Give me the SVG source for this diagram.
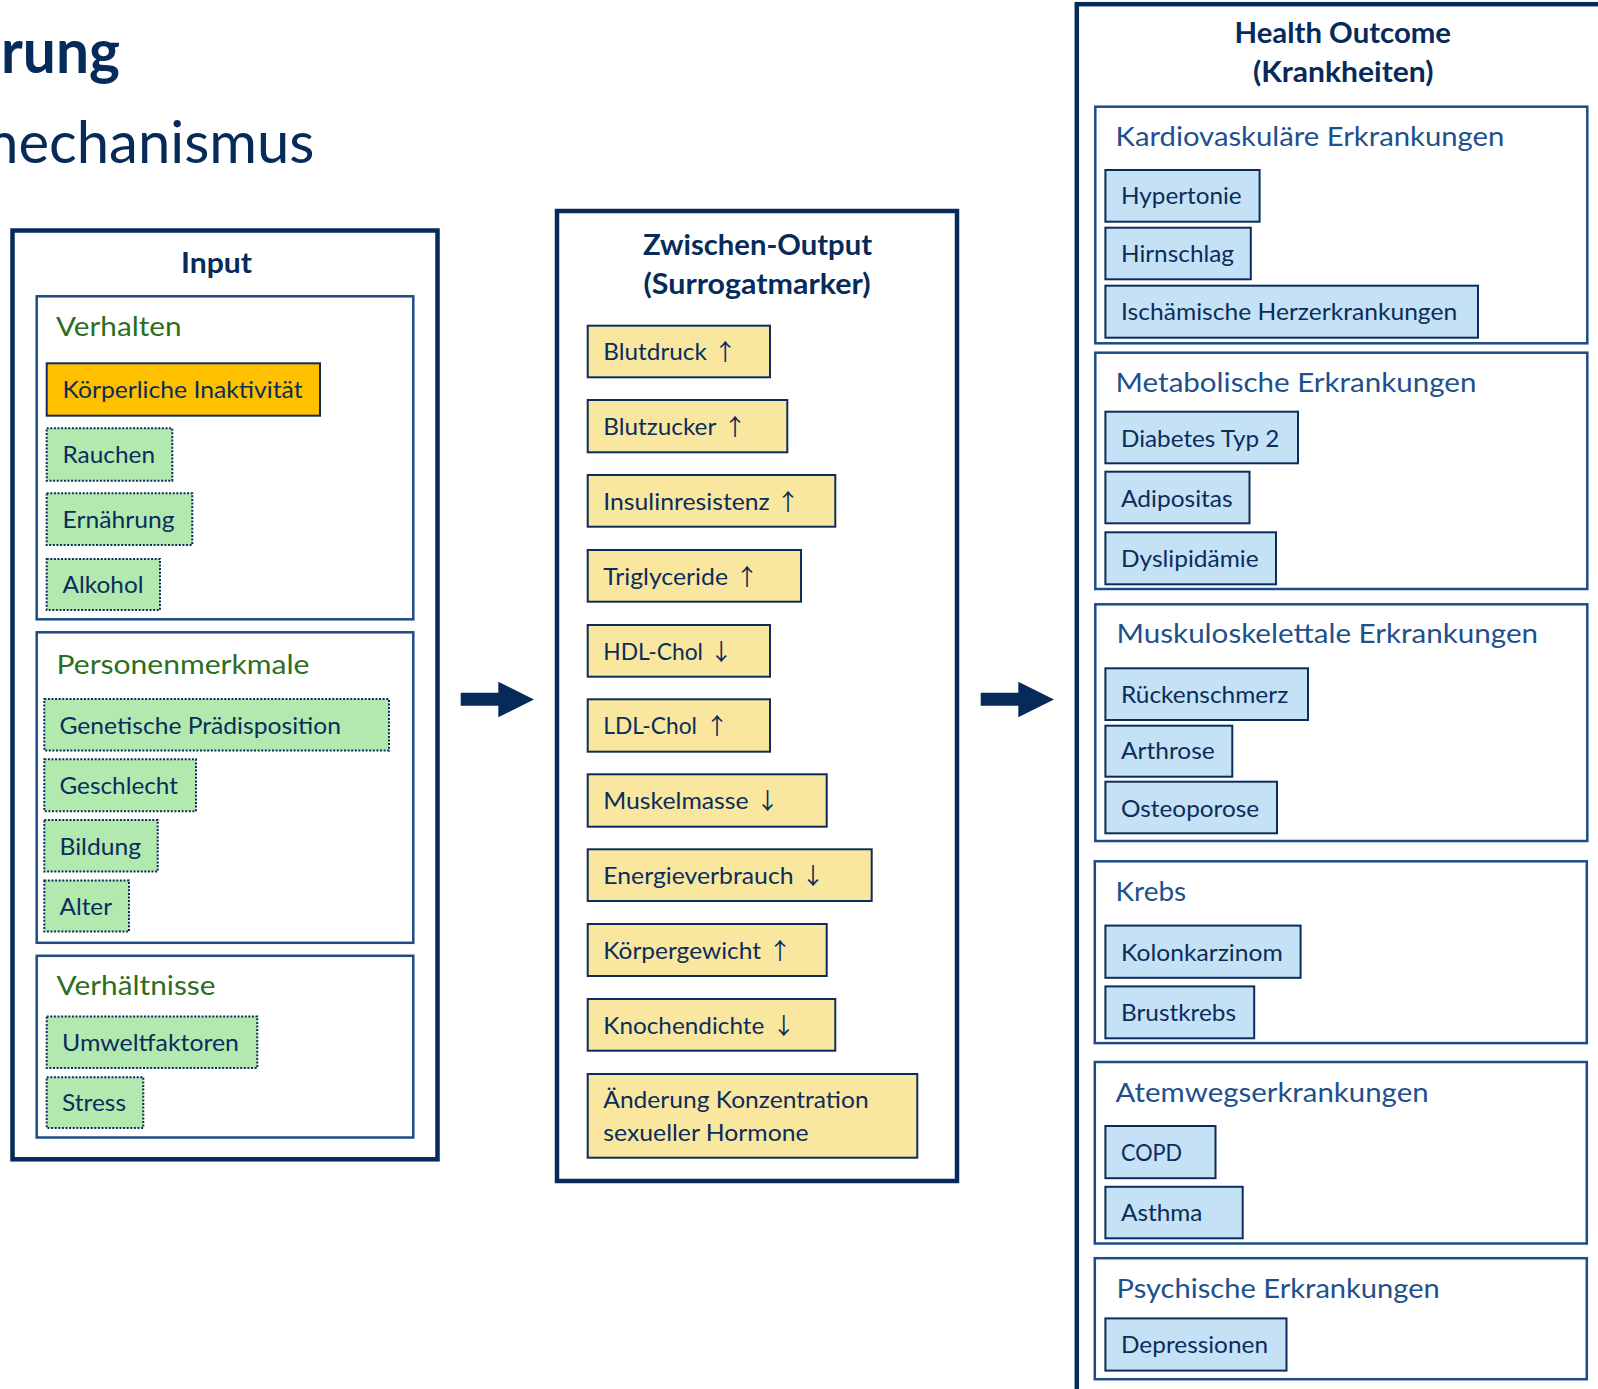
<svg xmlns="http://www.w3.org/2000/svg" width="1598" height="1389" viewBox="0 0 1598 1389">
<style>
text{font-family:Lato,"Liberation Sans",sans-serif;}
.outer{fill:#fff;stroke:#062b5a;stroke-width:4.5}
.sub{fill:#fff;stroke:#1d4c86;stroke-width:2.5}
.orange{fill:#ffc000;stroke:#0b2d5b;stroke-width:2}
.green{fill:#b1e9af;stroke:#0b2d5b;stroke-width:2;stroke-dasharray:2 1.6}
.yellow{fill:#fae79f;stroke:#0b2d5b;stroke-width:2}
.blue{fill:#c5e1f5;stroke:#0b2d5b;stroke-width:2}
.item{font-size:24px;fill:#0b2d5b}
.catg{font-size:26.5px;fill:#2c6e22}
.catb{font-size:26.5px;fill:#1e508e}
.head{font-size:28px;font-weight:bold;fill:#062b5a}
.arr{font-family:"Noto Sans CJK JP","DejaVu Sans",sans-serif;font-size:23px;fill:#0b2d5b;text-anchor:middle}
.conn{fill:#062b5a}
</style>

<g id="page-title">
<text x="1" y="72.7" style="font-size:61px;font-weight:bold;fill:#062b5a" textLength="119" lengthAdjust="spacingAndGlyphs">rung</text>
<text x="314.5" y="163.3" text-anchor="end" style="font-size:58px;fill:#062b5a">mechanismus</text>
</g>

<g id="input">
<rect class="outer" x="12.5" y="230.5" width="425" height="928.8"/>
<text class="head" x="181" y="273" textLength="71" lengthAdjust="spacingAndGlyphs">Input</text>
</g>

<g id="verhalten">
<rect class="sub" x="36.7" y="296.3" width="376.6" height="323"/>
<text class="catg" x="56" y="335.7" textLength="125.5" lengthAdjust="spacingAndGlyphs">Verhalten</text>
</g>
<g id="koerperliche-inaktivitaet">
<rect class="orange" x="46.7" y="363.3" width="273.3" height="52.4"/>
<text class="item" x="62.5" y="398.3" textLength="240" lengthAdjust="spacingAndGlyphs">Körperliche Inaktivität</text>
</g>
<g id="rauchen">
<rect class="green" x="46.7" y="428.3" width="125.6" height="52.4"/>
<text class="item" x="62.5" y="463.3" textLength="92.5" lengthAdjust="spacingAndGlyphs">Rauchen</text>
</g>
<g id="ernaehrung">
<rect class="green" x="46.7" y="493.3" width="145.6" height="51.7"/>
<text class="item" x="62.5" y="528.3" textLength="112" lengthAdjust="spacingAndGlyphs">Ernährung</text>
</g>
<g id="alkohol">
<rect class="green" x="46.7" y="559" width="113.3" height="51"/>
<text class="item" x="62.5" y="593.3" textLength="81" lengthAdjust="spacingAndGlyphs">Alkohol</text>
</g>

<g id="personenmerkmale">
<rect class="sub" x="36.7" y="632.3" width="376.6" height="310.5"/>
<text class="catg" x="56.5" y="674.4" textLength="253" lengthAdjust="spacingAndGlyphs">Personenmerkmale</text>
</g>
<g id="genetische-praedisposition">
<rect class="green" x="44.3" y="699" width="344.7" height="51.5"/>
<text class="item" x="59.5" y="734" textLength="281.5" lengthAdjust="spacingAndGlyphs">Genetische Prädisposition</text>
</g>
<g id="geschlecht">
<rect class="green" x="44.3" y="759.3" width="151.7" height="51.9"/>
<text class="item" x="59.5" y="794.4" textLength="118.5" lengthAdjust="spacingAndGlyphs">Geschlecht</text>
</g>
<g id="bildung">
<rect class="green" x="44.3" y="820" width="113.4" height="51.6"/>
<text class="item" x="59.5" y="855.1" textLength="81.5" lengthAdjust="spacingAndGlyphs">Bildung</text>
</g>
<g id="alter">
<rect class="green" x="44.3" y="880.4" width="84.7" height="51.2"/>
<text class="item" x="59.5" y="914.7" textLength="52.5" lengthAdjust="spacingAndGlyphs">Alter</text>
</g>

<g id="verhaeltnisse">
<rect class="sub" x="36.7" y="955.8" width="376.6" height="181.7"/>
<text class="catg" x="56.5" y="994.7" textLength="159" lengthAdjust="spacingAndGlyphs">Verhältnisse</text>
</g>
<g id="umweltfaktoren">
<rect class="green" x="46.7" y="1016.5" width="210.6" height="51.5"/>
<text class="item" x="62" y="1050.9" textLength="177" lengthAdjust="spacingAndGlyphs">Umweltfaktoren</text>
</g>
<g id="stress">
<rect class="green" x="46.7" y="1077.2" width="96.6" height="50.8"/>
<text class="item" x="62" y="1111.2" textLength="64" lengthAdjust="spacingAndGlyphs">Stress</text>
</g>

<g id="zwischen-output">
<rect class="outer" x="557" y="211" width="400" height="970"/>
<text class="head" x="643" y="255" textLength="229" lengthAdjust="spacingAndGlyphs">Zwischen-Output</text>
<text class="head" x="643.5" y="293.5" textLength="227" lengthAdjust="spacingAndGlyphs">(Surrogatmarker)</text>
</g>
<g id="blutdruck">
<rect class="yellow" x="587.7" y="325.7" width="182.3" height="51.6"/>
<text class="item" x="603.3" y="360" textLength="103.5" lengthAdjust="spacingAndGlyphs">Blutdruck</text>
<text class="arr" x="725.3" y="360">↑</text>
</g>
<g id="blutzucker">
<rect class="yellow" x="587.7" y="400" width="199.6" height="52.3"/>
<text class="item" x="603.3" y="435" textLength="113" lengthAdjust="spacingAndGlyphs">Blutzucker</text>
<text class="arr" x="735" y="435">↑</text>
</g>
<g id="insulinresistenz">
<rect class="yellow" x="587.7" y="475" width="247.6" height="51.7"/>
<text class="item" x="603.3" y="510" textLength="166.5" lengthAdjust="spacingAndGlyphs">Insulinresistenz</text>
<text class="arr" x="788" y="510">↑</text>
</g>
<g id="triglyceride">
<rect class="yellow" x="587.7" y="550" width="213.3" height="51.7"/>
<text class="item" x="603.3" y="585" textLength="124.7" lengthAdjust="spacingAndGlyphs">Triglyceride</text>
<text class="arr" x="747" y="585">↑</text>
</g>
<g id="hdl-chol">
<rect class="yellow" x="587.7" y="625" width="182.3" height="51.7"/>
<text class="item" x="603.3" y="660" textLength="99.7" lengthAdjust="spacingAndGlyphs">HDL-Chol</text>
<text class="arr" x="721.3" y="660">↓</text>
</g>
<g id="ldl-chol">
<rect class="yellow" x="587.7" y="699.3" width="182.3" height="52.4"/>
<text class="item" x="603.3" y="734.3" textLength="93.7" lengthAdjust="spacingAndGlyphs">LDL-Chol</text>
<text class="arr" x="717" y="734.3">↑</text>
</g>
<g id="muskelmasse">
<rect class="yellow" x="587.7" y="774.3" width="239" height="52.4"/>
<text class="item" x="603.3" y="809.3" textLength="145.3" lengthAdjust="spacingAndGlyphs">Muskelmasse</text>
<text class="arr" x="767.5" y="809.3">↓</text>
</g>
<g id="energieverbrauch">
<rect class="yellow" x="587.7" y="849.3" width="284" height="51.7"/>
<text class="item" x="603.3" y="884" textLength="190.3" lengthAdjust="spacingAndGlyphs">Energieverbrauch</text>
<text class="arr" x="813" y="884">↓</text>
</g>
<g id="koerpergewicht">
<rect class="yellow" x="587.7" y="924" width="239" height="52"/>
<text class="item" x="603.3" y="959.3" textLength="157.7" lengthAdjust="spacingAndGlyphs">Körpergewicht</text>
<text class="arr" x="780" y="959.3">↑</text>
</g>
<g id="knochendichte">
<rect class="yellow" x="587.7" y="999" width="247.6" height="51.7"/>
<text class="item" x="603.3" y="1034" textLength="161" lengthAdjust="spacingAndGlyphs">Knochendichte</text>
<text class="arr" x="783.7" y="1034">↓</text>
</g>
<g id="sexualhormone">
<rect class="yellow" x="587.7" y="1074" width="329.6" height="83.7"/>
<text class="item" x="603.3" y="1108.3" textLength="265.3" lengthAdjust="spacingAndGlyphs">Änderung Konzentration</text>
<text class="item" x="603.3" y="1141" textLength="205.3" lengthAdjust="spacingAndGlyphs">sexueller Hormone</text>
</g>

<g id="health-outcome">
<rect class="outer" x="1076.8" y="4.2" width="700" height="1500"/>
<text class="head" x="1234.5" y="43.3" textLength="216.5" lengthAdjust="spacingAndGlyphs">Health Outcome</text>
<text class="head" x="1253" y="81.5" textLength="180.5" lengthAdjust="spacingAndGlyphs">(Krankheiten)</text>
</g>

<g id="kardiovaskulaer">
<rect class="sub" x="1095.3" y="106.7" width="492" height="236.6"/>
<text class="catb" x="1115.6" y="145.7" textLength="388.7" lengthAdjust="spacingAndGlyphs">Kardiovaskuläre Erkrankungen</text>
</g>
<g id="hypertonie">
<rect class="blue" x="1105.4" y="170" width="154.2" height="51.7"/>
<text class="item" x="1121" y="204" textLength="120.7" lengthAdjust="spacingAndGlyphs">Hypertonie</text>
</g>
<g id="hirnschlag">
<rect class="blue" x="1105.4" y="227.7" width="145.4" height="51.6"/>
<text class="item" x="1121" y="261.7" textLength="113" lengthAdjust="spacingAndGlyphs">Hirnschlag</text>
</g>
<g id="ischaemische-herzerkrankungen">
<rect class="blue" x="1105.4" y="285.7" width="372.6" height="52"/>
<text class="item" x="1121" y="320" textLength="336.2" lengthAdjust="spacingAndGlyphs">Ischämische Herzerkrankungen</text>
</g>

<g id="metabolisch">
<rect class="sub" x="1095.3" y="352.7" width="492" height="236.3"/>
<text class="catb" x="1115.6" y="391.7" textLength="360.8" lengthAdjust="spacingAndGlyphs">Metabolische Erkrankungen</text>
</g>
<g id="diabetes">
<rect class="blue" x="1105.4" y="411.7" width="192.6" height="51.6"/>
<text class="item" x="1121" y="446.7" textLength="158.4" lengthAdjust="spacingAndGlyphs">Diabetes Typ 2</text>
</g>
<g id="adipositas">
<rect class="blue" x="1105.4" y="471.7" width="144.1" height="51.6"/>
<text class="item" x="1121" y="506.7" textLength="111.6" lengthAdjust="spacingAndGlyphs">Adipositas</text>
</g>
<g id="dyslipidaemie">
<rect class="blue" x="1105.4" y="532.3" width="170.6" height="52"/>
<text class="item" x="1121" y="566.7" textLength="137.6" lengthAdjust="spacingAndGlyphs">Dyslipidämie</text>
</g>

<g id="muskuloskelettal">
<rect class="sub" x="1095.3" y="604.3" width="492" height="236.7"/>
<text class="catb" x="1116.6" y="643.3" textLength="421.5" lengthAdjust="spacingAndGlyphs">Muskuloskelettale Erkrankungen</text>
</g>
<g id="rueckenschmerz">
<rect class="blue" x="1105.4" y="668.3" width="202.6" height="51.7"/>
<text class="item" x="1121" y="703.3" textLength="167.2" lengthAdjust="spacingAndGlyphs">Rückenschmerz</text>
</g>
<g id="arthrose">
<rect class="blue" x="1105.4" y="725.7" width="126.9" height="51"/>
<text class="item" x="1121" y="759.3" textLength="93.8" lengthAdjust="spacingAndGlyphs">Arthrose</text>
</g>
<g id="osteoporose">
<rect class="blue" x="1105.4" y="781.7" width="171.6" height="51.6"/>
<text class="item" x="1121" y="816.7" textLength="138.2" lengthAdjust="spacingAndGlyphs">Osteoporose</text>
</g>

<g id="krebs">
<rect class="sub" x="1094.8" y="861.3" width="492" height="181.8"/>
<text class="catb" x="1115.6" y="900.5" textLength="70.6" lengthAdjust="spacingAndGlyphs">Krebs</text>
</g>
<g id="kolonkarzinom">
<rect class="blue" x="1105.4" y="925.6" width="195.2" height="52.2"/>
<text class="item" x="1121" y="960.7" textLength="161.8" lengthAdjust="spacingAndGlyphs">Kolonkarzinom</text>
</g>
<g id="brustkrebs">
<rect class="blue" x="1105.4" y="986.4" width="148.8" height="51.9"/>
<text class="item" x="1121" y="1020.8" textLength="115" lengthAdjust="spacingAndGlyphs">Brustkrebs</text>
</g>

<g id="atemweg">
<rect class="sub" x="1094.8" y="1062" width="492" height="181.5"/>
<text class="catb" x="1115.6" y="1101.5" textLength="313" lengthAdjust="spacingAndGlyphs">Atemwegserkrankungen</text>
</g>
<g id="copd">
<rect class="blue" x="1105.4" y="1126" width="110.1" height="52.2"/>
<text class="item" x="1121" y="1161" textLength="61.1" lengthAdjust="spacingAndGlyphs">COPD</text>
</g>
<g id="asthma">
<rect class="blue" x="1105.4" y="1186.8" width="137.3" height="51.5"/>
<text class="item" x="1121" y="1221.1" textLength="81.3" lengthAdjust="spacingAndGlyphs">Asthma</text>
</g>

<g id="psychisch">
<rect class="sub" x="1094.8" y="1258.2" width="492" height="121"/>
<text class="catb" x="1116.6" y="1297.8" textLength="323.2" lengthAdjust="spacingAndGlyphs">Psychische Erkrankungen</text>
</g>
<g id="depressionen">
<rect class="blue" x="1105.4" y="1318.4" width="181.1" height="52.2"/>
<text class="item" x="1121" y="1353.4" textLength="147" lengthAdjust="spacingAndGlyphs">Depressionen</text>
</g>

<g id="connectors">
<polygon class="conn" points="460.7,692.7 498.3,692.7 498.3,681.7 534,699.5 498.3,717.3 498.3,705.7 460.7,705.7"/>
<polygon class="conn" points="980.7,692.7 1018.3,692.7 1018.3,681.7 1054,699.5 1018.3,717.3 1018.3,705.7 980.7,705.7"/>
</g>
</svg>
